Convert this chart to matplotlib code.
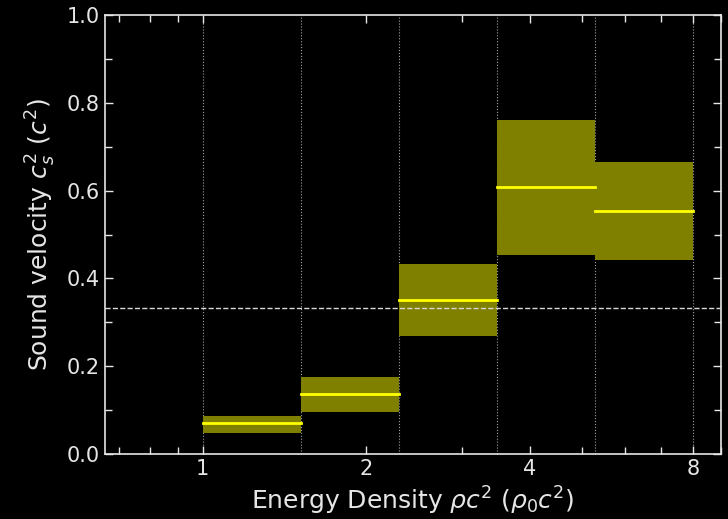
import matplotlib
matplotlib.use("Agg")
import matplotlib.pyplot as plt
from matplotlib.ticker import FixedLocator, NullFormatter, MultipleLocator

# Data
bin_edges = [1.0, 1.516, 2.297, 3.482, 5.278, 8.0]
cs2_low = [0.0485, 0.0964, 0.270, 0.454, 0.443]
cs2_high = [0.0866, 0.175, 0.432, 0.761, 0.665]
cs2_median = [0.0713, 0.136, 0.352, 0.608, 0.554]
conformal_limit = 1.0 / 3.0
xticks = [1, 2, 4, 8]
xtick_labels = ["1", "2", "4", "8"]

fg = "#e6e6e6"
fig = plt.figure(figsize=(7.28, 5.19), dpi=100, facecolor="black")
ax = fig.add_axes([0.144, 0.125, 0.846, 0.846], facecolor="black")

ax.set_xscale("log")
for i in range(len(cs2_low)):
    x0, x1 = bin_edges[i], bin_edges[i + 1]
    ax.fill_between([x0, x1], [cs2_low[i]] * 2, [cs2_high[i]] * 2,
                    color="olive", linewidth=0, zorder=2)
    ax.plot([x0, x1], [cs2_median[i]] * 2, color="yellow", lw=2, zorder=3)

for e in bin_edges:
    ax.axvline(e, color="#a0a0a0", ls=":", lw=0.8, zorder=1)

ax.axhline(conformal_limit, color="#d8d8d8", ls="--", lw=1, zorder=4)

ax.set_xlim(0.66, 9.0)
ax.set_ylim(0, 1.0)
ax.xaxis.set_major_locator(FixedLocator(xticks))
ax.set_xticklabels(xtick_labels)
ax.xaxis.set_minor_formatter(NullFormatter())
ax.yaxis.set_major_locator(MultipleLocator(0.2))
ax.yaxis.set_minor_locator(MultipleLocator(0.1))

ax.tick_params(which="both", direction="in", top=True, right=True,
               colors=fg, labelcolor=fg, labelsize=15)
ax.tick_params(which="major", length=6, width=1)
ax.tick_params(which="minor", length=5, width=1)
for s in ax.spines.values():
    s.set_color(fg)
    s.set_linewidth(1.2)

ax.set_xlabel(r"Energy Density $\rho c^2$ ($\rho_0 c^2$)", color=fg, fontsize=18,
              labelpad=4)
ax.set_ylabel(r"Sound velocity $c_s^2$ ($c^2$)", color=fg, fontsize=18,
              labelpad=6)

fig.savefig("out.png", dpi=100, facecolor="black")
